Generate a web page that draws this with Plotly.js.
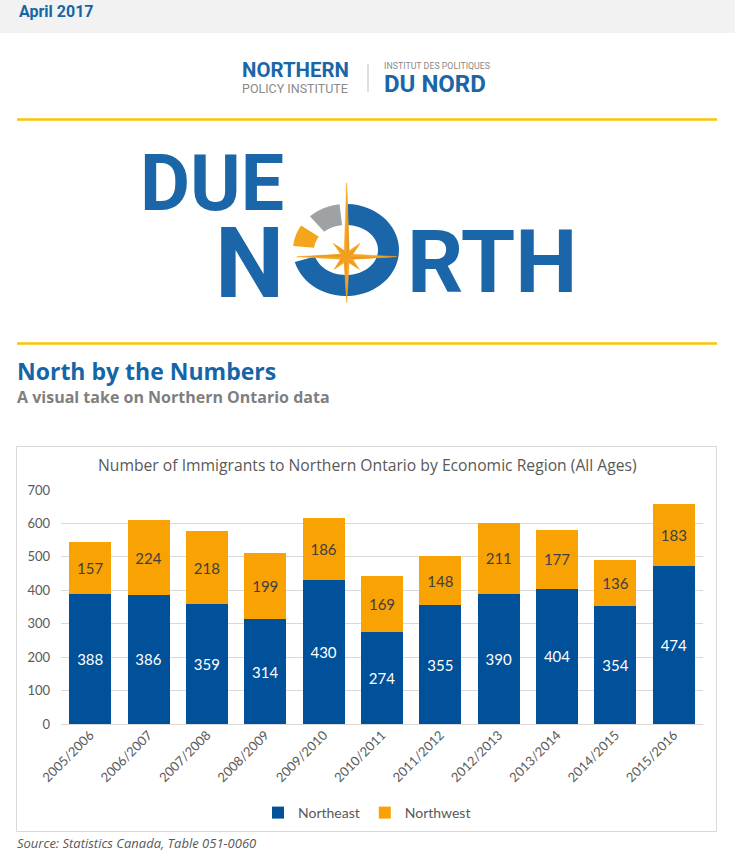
<!DOCTYPE html>
<html><head><meta charset="utf-8">
<script src="https://cdn.plot.ly/plotly-3.0.1.min.js"></script>
<style>html,body{margin:0;padding:0;background:#fff;}#chart{width:735px;height:863px;}</style>
</head><body><div id="chart"></div>
<script>
// ---- data ----
const categories = ["2005/2006","2006/2007","2007/2008","2008/2009","2009/2010","2010/2011","2011/2012","2012/2013","2013/2014","2014/2015","2015/2016"];
const northeast = [388,386,359,314,430,274,355,390,404,354,474];
const northwest = [157,224,218,199,186,169,148,211,177,136,183];
const seriesNames = ["Northeast","Northwest"];
const yTicks = [0,100,200,300,400,500,600,700];

// ---- pixel -> paper helpers (margins are 0, so paper == page) ----
const W = 735, H = 863;
const X = p => p / W;
const Y = p => 1 - p / H;

const blue = '#1565A7';
const logoBlue = '#1A66A8';
const grayTxt = '#595959';

function hasFont(name){
  const c = document.createElement('canvas').getContext('2d');
  c.font = 'bold 100px monospace';
  const a = c.measureText('RTHmwil').width;
  c.font = 'bold 100px "' + name + '", monospace';
  return Math.abs(c.measureText('RTHmwil').width - a) > 0.5;
}
const narrowOK = hasFont('Liberation Sans Narrow');

function pathFromPts(pts){
  return 'M' + pts.map(p => X(p[0]).toFixed(5) + ',' + Y(p[1]).toFixed(5)).join('L') + 'Z';
}
function arcBand(cx, cy, Rx, Ry, rx, ry, a1, a2){
  const pts = [];
  const n = 48;
  for(let i=0;i<=n;i++){const a=(a1+(a2-a1)*i/n)*Math.PI/180; pts.push([cx+Rx*Math.cos(a), cy-Ry*Math.sin(a)]);}
  for(let i=n;i>=0;i--){const a=(a1+(a2-a1)*i/n)*Math.PI/180; pts.push([cx+rx*Math.cos(a), cy-ry*Math.sin(a)]);}
  return pathFromPts(pts);
}
// compass star
const sc = [346.7, 256.7];
const tips = [[90,74],[45,19],[0,50],[-45,18],[-90,46],[-135,18],[180,50],[135,19]];
function starPts(){
  const pts=[];
  tips.forEach(t=>{
    const a=t[0]*Math.PI/180;
    const ai=(t[0]-22.5)*Math.PI/180;
    pts.push([sc[0]+t[1]*Math.cos(a), sc[1]-t[1]*Math.sin(a)]);
    pts.push([sc[0]+6.5*Math.cos(ai), sc[1]-6.5*Math.sin(ai)]);
  });
  return pts;
}
const sp = starPts();
const rc = [346, 250];
const shapes = [
  {type:'rect', xref:'paper', yref:'paper', x0:0, x1:1, y0:Y(33), y1:1, fillcolor:'#F2F2F2', line:{width:0}, layer:'below'},
  {type:'line', xref:'paper', yref:'paper', x0:X(368), x1:X(368), y0:Y(64), y1:Y(92), line:{color:'#BFBFBF', width:1}},
  {type:'line', xref:'paper', yref:'paper', x0:X(17), x1:X(717), y0:Y(119.5), y1:Y(119.5), line:{color:'#F7C600', width:2.5}},
  {type:'line', xref:'paper', yref:'paper', x0:X(17), x1:X(717), y0:Y(343.5), y1:Y(343.5), line:{color:'#F7C600', width:2.5}},
  {type:'rect', xref:'paper', yref:'paper', x0:X(16.5), x1:X(716.5), y0:Y(831.5), y1:Y(446.5), line:{color:'#D9D9D9', width:1}, layer:'below'},
  // ring
  {type:'path', xref:'paper', yref:'paper', path:arcBand(rc[0],rc[1],53,46,32,25,-165,88), fillcolor:logoBlue, line:{width:0}},
  {type:'path', xref:'paper', yref:'paper', path:arcBand(rc[0],rc[1],53,46,32,25,97,133), fillcolor:'#9EA2A5', line:{width:0}},
  {type:'path', xref:'paper', yref:'paper', path:arcBand(rc[0],rc[1],53,46,32,25,148,175), fillcolor:'#F4A51C', line:{width:0}},
  // star
  {type:'path', xref:'paper', yref:'paper', path:pathFromPts(sp), fillcolor:'#F6A623', line:{color:'#F6A623', width:0.5}}
];
for(let i=0;i<tips.length;i++){
  const tip = sp[2*i], inner = sp[(2*i+1)%sp.length];
  shapes.push({type:'path', xref:'paper', yref:'paper', path:pathFromPts([sc, tip, inner]), fillcolor:'#EB9A1E', line:{width:0}});
}

function ann(text, x, y, size, color, family, opts){
  return Object.assign({text:text, xref:'paper', yref:'paper', x:X(x), y:Y(y), showarrow:false,
    xanchor:'left', yanchor:'middle', font:{family:family||'Roboto, Arial, sans-serif', size:size, color:color}}, opts||{});
}
const rthFont = narrowOK ? '"Liberation Sans Narrow", Roboto, sans-serif' : 'Roboto, Arial, sans-serif';
const rthSize = narrowOK ? 96 : 88;
const annotations = [
  ann('<b>April 2017</b>', 17, 11, 16, blue),
  ann('<b>NORTHERN</b>', 240, 70, 20.4, logoBlue),
  ann('POLICY INSTITUTE', 240, 88, 12.5, '#8A8A8A'),
  ann('INSTITUT DES POLITIQUES', 382, 66, 8.8, '#8A8A8A'),
  ann('<b>DU NORD</b>', 382, 84.5, 24, logoBlue),
  // big logo words (O of NORTH is the compass graphic)
  {text:'<b><span style="font-size:77px">DUE</span><br><span style="font-size:98px">N</span></b>', xref:'paper', yref:'paper',
   x:X(286), y:Y(137), xanchor:'right', yanchor:'top', align:'right', showarrow:false,
   font:{family:'Roboto, Arial, sans-serif', size:67, color:logoBlue}},
  {text:'<b>RTH</b>', xref:'paper', yref:'paper', x:X(491.5), y:Y(262), xanchor:'center', yanchor:'middle', showarrow:false,
   font:{family:rthFont, size:rthSize, color:logoBlue}},
  ann('<b>North by the Numbers</b>', 15, 371, 23, blue, 'Open Sans, sans-serif'),
  ann('<b>A visual take on Northern Ontario data</b>', 15, 397, 16, '#7F7F7F', 'Open Sans, sans-serif'),
  {text:'Number of Immigrants to Northern Ontario by Economic Region (All Ages)', xref:'paper', yref:'paper', x:X(367), y:Y(465), showarrow:false,
    xanchor:'center', yanchor:'middle', font:{family:'Open Sans, sans-serif', size:15.7, color:grayTxt}},
  ann('<i>Source: Statistics Canada, Table 051-0060</i>', 15, 843, 13, grayTxt, 'Open Sans, sans-serif')
];

const traces = [
  {type:'bar', name:seriesNames[0], x:categories, y:northeast, marker:{color:'#00509A'},
   text:northeast.map(String), textposition:'inside', insidetextanchor:'middle', textangle:0, constraintext:'none',
   textfont:{family:'Lato, sans-serif', size:15, color:'#FFFFFF'}, hoverinfo:'skip'},
  {type:'bar', name:seriesNames[1], x:categories, y:northwest, marker:{color:'#F9A204'},
   text:northwest.map(String), textposition:'inside', insidetextanchor:'middle', textangle:0, constraintext:'none',
   textfont:{family:'Lato, sans-serif', size:15, color:'#404040'}, hoverinfo:'skip'}
];

const layout = {
  width:W, height:H, margin:{l:0,r:0,t:0,b:0}, paper_bgcolor:'#FFFFFF', plot_bgcolor:'rgba(0,0,0,0)',
  barmode:'stack', bargap:0.28, showlegend:true,
  font:{family:'Lato, sans-serif', color:grayTxt},
  xaxis:{domain:[X(61), X(703)], type:'category', tickangle:-45, showgrid:false, showline:false, ticks:'',
    tickfont:{family:'Lato, sans-serif', size:13, color:grayTxt}, fixedrange:true},
  yaxis:{domain:[Y(724), Y(490)], range:[0,700], tickvals:yTicks, showgrid:true, gridcolor:'#D9D9D9', gridwidth:1,
    zeroline:true, zerolinecolor:'#D9D9D9', zerolinewidth:1, ticks:'', ticklabelstandoff:10,
    tickfont:{family:'Lato, sans-serif', size:13, color:grayTxt}, fixedrange:true},
  legend:{orientation:'h', x:X(367), xanchor:'center', y:Y(813), yanchor:'middle', traceorder:'normal',
    font:{family:'Lato, sans-serif', size:14, color:grayTxt}, bgcolor:'rgba(0,0,0,0)'},
  shapes:shapes, annotations:annotations
};
Plotly.newPlot('chart', traces, layout, {displayModeBar:false, staticPlot:true});
</script></body></html>
